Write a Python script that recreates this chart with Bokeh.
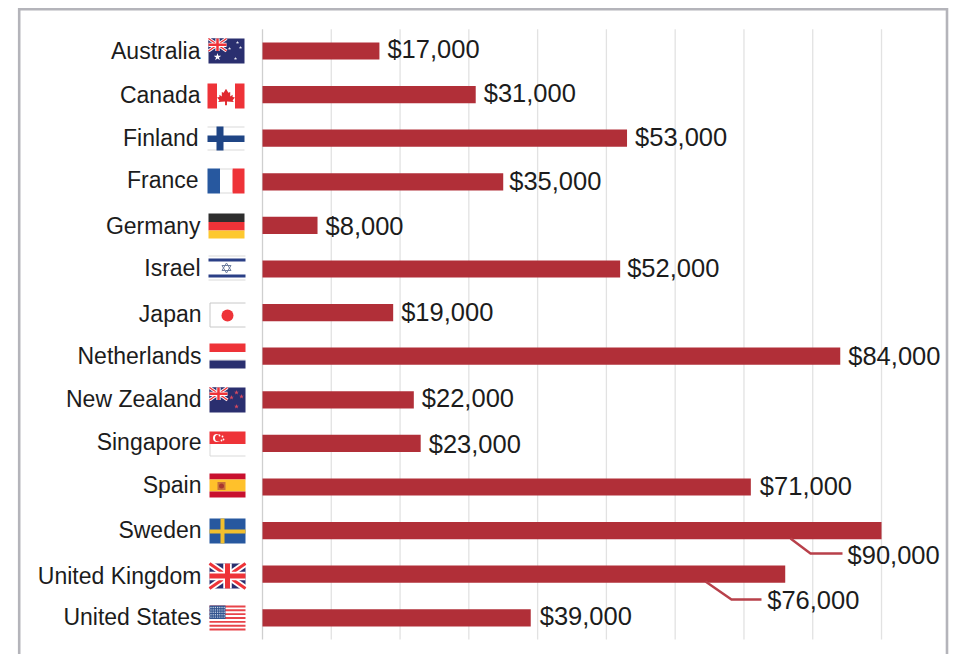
from bokeh.plotting import figure
from bokeh.models import Range1d
from bokeh.core.properties import value
from bokeh.embed import file_html
from bokeh.resources import INLINE
import math

countries = ["Australia", "Canada", "Finland", "France", "Germany", "Israel", "Japan", "Netherlands",
             "New Zealand", "Singapore", "Spain", "Sweden", "United Kingdom", "United States"]
amounts = [17000, 31000, 53000, 35000, 8000, 52000, 19000, 84000, 22000, 23000, 71000, 90000, 76000, 39000]
amount_labels = ["$17,000", "$31,000", "$53,000", "$35,000", "$8,000", "$52,000", "$19,000", "$84,000",
                 "$22,000", "$23,000", "$71,000", "$90,000", "$76,000", "$39,000"]
grid_ticks = [0, 10000, 20000, 30000, 40000, 50000, 60000, 70000, 80000, 90000]

# ---- layout, in canvas pixels
W, H = 957, 654
PX_PER_UNIT = 68.78 / 10000
X0 = 262.0
Y0, STEP = 50.5, 43.6
BAR, INK = "#b12f38", "#1c1c1c"
FONT = "Liberation Sans"

p = figure(width=W, height=H, output_backend="svg", toolbar_location=None, min_border=0,
           x_range=Range1d(-X0 / PX_PER_UNIT, (W - X0) / PX_PER_UNIT),
           y_range=Range1d((H - Y0) / STEP, -Y0 / STEP),
           x_axis_type=None, y_axis_type=None, outline_line_color=None)
p.grid.visible = False
p.extra_x_ranges["px"] = Range1d(0, W)
p.extra_y_ranges["py"] = Range1d(H, 0)

idx = list(range(len(countries)))

# gridlines
p.segment(x0=grid_ticks[1:], x1=grid_ticks[1:], y0=-0.5, y1=13.5, line_color="#e2e2e2", line_width=1.3)
p.segment(x0=[0], x1=[0], y0=-0.5, y1=13.5, line_color="#cfcfcf", line_width=1.3)

# bars
p.hbar(y=idx, left=0, right=amounts, height=0.395, fill_color=BAR, line_color=None)

# category labels
cat_dx = [-62, -62, -64, -64, -62, -62, -61, -61, -61, -61, -61, -61, -61, -61]
cat_dy = [0, 0.5, 0, -1.5, 0.5, -1.5, 1.5, -0.5, -0.5, -1.5, -2.5, -0.5, 1.5, -0.5]
p.text(x=[0] * 14, y=idx, text=countries, x_offset=cat_dx, y_offset=cat_dy, text_align="right",
       text_baseline="middle", text_font=value(FONT), text_font_size="23px", text_color=INK)

# value labels (Sweden and United Kingdom sit below their bars, on leader lines)
val_dx = [8, 8, 8, 6, 8, 7, 8, 8, 8, 8, 9, -34, -18, 9]
val_dy = [-2.5, -1.5, -1.5, -0.5, 0.5, -1.5, -0.5, -0.5, -1.5, 0.5, -1.5, 24.5, 25.5, -1.5]
p.text(x=amounts, y=idx, text=amount_labels, x_offset=val_dx, y_offset=val_dy, text_align="left",
       text_baseline="middle", text_font=value(FONT), text_font_size="25.5px", text_color=INK)

# ---- pixel helpers for the leader lines, the border and the flags
def pl(xs, ys, color, width=1.0):
    p.line(xs, ys, x_range_name="px", y_range_name="py",
           line_color=color, line_width=width, line_join="miter")

def rect(x0, y0, x1, y1, color):
    p.quad(left=x0, right=x1, top=y0, bottom=y1, x_range_name="px", y_range_name="py",
           fill_color=color, line_color=None)

def poly(xs, ys, color):
    p.patch(xs, ys, x_range_name="px", y_range_name="py", fill_color=color, line_color=None)

def dot(xs, ys, size, color, marker="circle"):
    p.scatter(xs, ys, x_range_name="px", y_range_name="py",
              size=size, marker=marker, fill_color=color, line_color=None)

pl([790, 810, 842], [538, 553, 553], "#b8404a", 2.4)
pl([705, 731, 761], [581, 599, 599], "#b8404a", 2.4)
pl([18.7, 18.7, 946.5, 946.5], [654, 8.8, 8.8, 654], "#b4b4ba", 2.6)

RED, NAVY, BLUE, WHITE, EDGE = "#ee3338", "#2a2f6f", "#27589f", "#ffffff", "#d9d9d9"

def union_jack(x0, y0, w, h):
    rect(x0, y0, x0 + w, y0 + h, NAVY)
    x1, y1 = x0 + w, y0 + h
    t = h * 0.13
    for (ax, ay, bx, by) in [(x0, y0, x1, y1), (x0, y1, x1, y0)]:
        l = math.hypot(bx - ax, by - ay)
        nx, ny = -(by - ay) / l, (bx - ax) / l
        poly([ax + nx * t, bx + nx * t, bx - nx * t, ax - nx * t],
             [ay + ny * t, by + ny * t, by - ny * t, ay - ny * t], WHITE)
        r = t * 0.45
        poly([ax + nx * r, bx + nx * r, bx - nx * r, ax - nx * r],
             [ay + ny * r, by + ny * r, by - ny * r, ay - ny * r], RED)
    cx, cy = x0 + w / 2, y0 + h / 2
    rect(cx - h * 0.17, y0, cx + h * 0.17, y1, WHITE)
    rect(x0, cy - h * 0.17, x1, cy + h * 0.17, WHITE)
    rect(cx - h * 0.1, y0, cx + h * 0.1, y1, RED)
    rect(x0, cy - h * 0.1, x1, cy + h * 0.1, RED)

# Australia
rect(208, 38, 244, 63, NAVY)
union_jack(208, 38, 18, 12.5)
dot([217], [56.5], 8, WHITE, "star")
dot([229, 237, 240, 235], [48, 42, 47, 58], 3.5, "#e8e8f0", "star")
# Canada
rect(207, 83, 244, 108, WHITE)
rect(207, 83, 216.5, 108, RED)
rect(234.5, 83, 244, 108, RED)
leaf_x = [225.5, 227.5, 229, 229, 231, 231, 233, 231, 232, 226.3, 226.3, 224.7, 224.7, 219, 220, 218, 220, 220, 222, 222, 223.5]
leaf_y = [89, 92.5, 92, 96, 94.5, 96.5, 97, 99.5, 101, 100.5, 104, 104, 100.5, 101, 99.5, 97, 96.5, 94.5, 96, 92, 92.5]
poly([225.5 + (x - 225.5) * 1.2 for x in leaf_x], [96 + (y - 96) * 1.1 for y in leaf_y], "#e0282e")
# Finland
rect(207, 126, 244, 150, WHITE)
pl([207, 244], [126.5, 126.5], EDGE, 1)
pl([207, 244], [149.5, 149.5], EDGE, 1)
rect(207, 135, 244, 141.5, "#1f4585")
rect(216, 126, 223, 150, "#1f4585")
# France
rect(207, 168, 219.5, 193, BLUE)
rect(219.5, 168, 232, 193, WHITE)
rect(232, 168, 244, 193, RED)
pl([219.5, 232], [168.5, 168.5], EDGE, 1)
pl([219.5, 232], [192.5, 192.5], EDGE, 1)
# Germany
rect(208, 213, 244, 221.5, "#2e2e2e")
rect(208, 221.5, 244, 230, RED)
rect(208, 230, 244, 238, "#fdc82f")
# Israel
rect(208, 255, 245, 280, WHITE)
pl([208, 245], [255.5, 255.5], EDGE, 1)
pl([208, 245], [279.5, 279.5], EDGE, 1)
rect(208, 258, 245, 261, "#2a3f86")
rect(208, 274, 245, 277, "#2a3f86")
pl([226, 230.5, 221.5, 226], [262.5, 270, 270, 262.5], "#6f7f9f", 1)
pl([226, 230.5, 221.5, 226], [272.5, 265, 265, 272.5], "#6f7f9f", 1)
# Japan
rect(209, 302, 245, 327, WHITE)
pl([245, 209.5, 209.5, 245], [302.5, 302.5, 326.5, 326.5], "#c8c8c8", 1)
dot([227], [315], 12, RED)
# Netherlands
rect(209, 343, 245, 351.5, RED)
rect(209, 351.5, 245, 360, WHITE)
pl([209, 245], [359.5, 359.5], EDGE, 1)
rect(209, 360, 245, 368, NAVY)
# New Zealand
rect(209, 387, 245, 412, NAVY)
union_jack(209, 387, 18, 12.5)
dot([236, 241, 231, 236], [392, 396, 397, 406], 5, "#d8495f", "star")
# Singapore
rect(209, 431, 245, 443.5, RED)
rect(209, 443.5, 245, 456, WHITE)
pl([209.5, 209.5, 245], [443.5, 455.5, 455.5], EDGE, 1)
dot([216.5], [437.5], 8, WHITE)
dot([218], [437.5], 7, RED)
dot([219, 222, 221, 223], [435, 436, 440, 439], 1.8, WHITE)
# Spain
rect(209, 473, 245, 479, "#c8102e")
rect(209, 479, 245, 491, "#ffc12b")
rect(209, 491, 245, 497, "#c8102e")
dot([221], [485.5], 8, "#c7713a", "square")
dot([221], [485.5], 5, "#a8382e")
# Sweden
rect(209, 518, 245, 543, BLUE)
rect(220, 518, 224, 543, "#f2bf2e")
rect(209, 529, 245, 533, "#f2bf2e")
# United Kingdom
union_jack(209, 563, 36, 25)
# United States
rect(209, 605, 245, 630, WHITE)
for k in range(7):
    rect(209, 605 + k * 25 / 6.5, 245, 605 + k * 25 / 6.5 + 1.92, "#e8444a")
rect(209, 605, 225, 618.5, "#33558f")
dot([210.5 + 2.2 * a for a in range(7) for b in range(5)],
    [607 + 2.4 * b for a in range(7) for b in range(5)], 1.4, "#c9d4e6")

open("out.html", "w").write(file_html(p, INLINE))
